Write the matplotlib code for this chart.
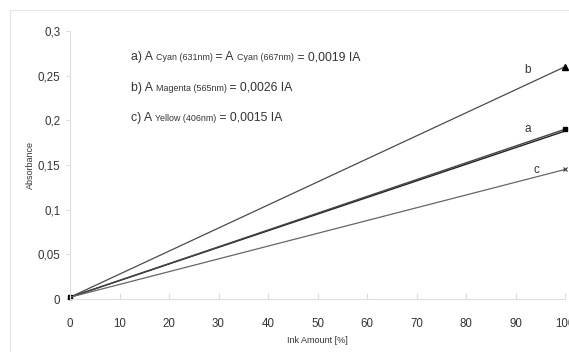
import matplotlib
matplotlib.use('Agg')
import matplotlib.pyplot as plt
from matplotlib.ticker import FuncFormatter, MultipleLocator
from matplotlib.patches import Rectangle

plt.rcParams['font.family'] = ['Liberation Sans', 'DejaVu Sans']

# ink amount [%] and absorbance at the two measured ends
ink = [0, 100]
cyan_631 = [0.002, 0.188]
cyan_667 = [0.002, 0.190]
magenta_565 = [0.002, 0.260]
yellow_406 = [0.002, 0.145]

text_col = '#333333'
spine_col = '#dddddd'

fig = plt.figure(figsize=(5.69, 3.52), dpi=100)
ax = fig.add_axes([70 / 569, 1 - 299 / 352, 495 / 569, 268 / 352])

# faint frame around the chart area
fig.patches.append(Rectangle((10 / 569, -0.1), 1.2, 1 - 10 / 352 + 0.1,
                             transform=fig.transFigure, fill=False,
                             edgecolor='#e6e6e6', linewidth=0.8))

ax.plot(ink, magenta_565, color='#4a4a4a', lw=0.9, marker='^', ms=3.8,
        markevery=[1], mfc='black', mec='black', clip_on=False)
ax.plot(ink, cyan_631, color='#222222', lw=1.0, clip_on=False)
ax.plot(ink, cyan_667, color='#444444', lw=1.0, marker='s', ms=3.2,
        mfc='black', mec='black', clip_on=False)
ax.plot(ink, yellow_406, color='#666666', lw=0.9, marker='x', ms=3.5,
        markevery=[1], mec='#333333', mew=0.8, clip_on=False)

ax.text(92.5, 0.256, 'b', fontsize=8.5, color=text_col, ha='center', va='center')
ax.text(92.5, 0.190, 'a', fontsize=8.5, color=text_col, ha='center', va='center')
ax.text(94.3, 0.1445, 'c', fontsize=8.5, color=text_col, ha='center', va='center')

ax.set_xlim(0, 100)
ax.set_ylim(0, 0.3)
ax.xaxis.set_major_locator(MultipleLocator(10))
ax.yaxis.set_major_locator(MultipleLocator(0.05))
ax.yaxis.set_major_formatter(FuncFormatter(lambda v, p: ('%g' % round(v, 3)).replace('.', ',')))

for s in ['top', 'right']:
    ax.spines[s].set_visible(False)
for s in ['left', 'bottom']:
    ax.spines[s].set_color(spine_col)
    ax.spines[s].set_linewidth(0.8)

ax.tick_params(axis='y', direction='out', length=3, width=0.8, color=spine_col,
               labelsize=8.3, labelcolor=text_col, pad=4)
ax.tick_params(axis='x', direction='in', length=4, width=0.8, color=spine_col,
               labelsize=8.3, labelcolor=text_col, pad=14)

ax.set_xlabel('Ink Amount [%]', fontsize=6.5, color=text_col, labelpad=4)
ax.set_ylabel('Absorbance', fontsize=6.5, color=text_col, labelpad=2)

# equations with small inline wavelength labels
fig.canvas.draw()
renderer = fig.canvas.get_renderer()

def rich_line(x, y, parts):
    for s, size in parts:
        t = fig.text(x, y, s, fontsize=size, color=text_col, va='baseline', ha='left')
        x += t.get_window_extent(renderer).width / fig.bbox.width

big, small = 8.8, 6.4
rich_line(131 / 569, 1 - 60 / 352, [('a) A ', big), ('Cyan (631nm)', small), (' = A ', big),
                                    ('Cyan (667nm)', small), (' = 0,0019 IA', big)])
rich_line(131 / 569, 1 - 91 / 352, [('b) A ', big), ('Magenta (565nm)', small), (' = 0,0026 IA', big)])
rich_line(131 / 569, 1 - 121 / 352, [('c) A ', big), ('Yellow (406nm)', small), (' = 0,0015 IA', big)])

fig.savefig('out.png', dpi=100)
